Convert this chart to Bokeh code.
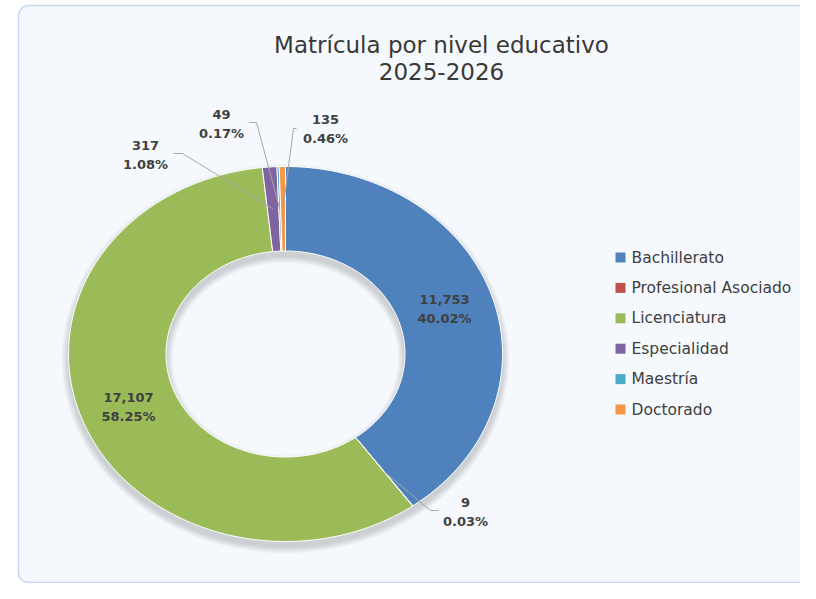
import numpy as np
from bokeh.plotting import figure
from bokeh.models import Range1d, BoxAnnotation
from bokeh.core.properties import value
from bokeh.embed import file_html
from bokeh.resources import INLINE

# ---- data ----
categories = ["Bachillerato", "Profesional Asociado", "Licenciatura",
              "Especialidad", "Maestría", "Doctorado"]
counts = [11753, 9, 17107, 317, 49, 135]
colors = ["#4F81BD", "#C0504D", "#9BBB59", "#8064A2", "#4BACC6", "#F79646"]
title_lines = ["Matrícula por nivel educativo", "2025-2026"]

# ---- layout (pixel coordinates of the picture) ----
W, H = 800, 583
CX, CY = 285, 353.5
RXO, RYO = 217, 187.5
RXI, RYI = 119.5, 103

p = figure(width=W, height=H, output_backend="svg", toolbar_location=None,
           x_range=Range1d(0, W), y_range=Range1d(H, 0),
           x_axis_location=None, y_axis_location=None, min_border=0,
           background_fill_color="white", border_fill_color="white")
p.grid.visible = False
p.outline_line_color = None

frame = BoxAnnotation(left=18, right=840, top=5, bottom=582,
                      fill_color="#F5F9FD", fill_alpha=1.0,
                      line_color="#5A89D4", line_width=1.5,
                      border_radius=10, level="underlay")
p.add_layout(frame)

total = float(sum(counts))
fracs = np.array(counts) / total
starts = np.concatenate([[0], np.cumsum(fracs)[:-1]]) * 2 * np.pi
ends = np.cumsum(fracs) * 2 * np.pi


def pt(theta, rx, ry, dy=0.0):
    return CX + rx * np.sin(theta), CY - ry * np.cos(theta) + dy


# ---- soft shadow (ring shifted down, blurred by layers) ----
full = np.linspace(0, 2 * np.pi, 181)
sx, sy = [], []
for k in range(1, 8):
    ox, oy = pt(full, RXO + k, RYO + k, dy=5)
    ix, iy = pt(full, RXI - k, RYI - k, dy=5)
    sx.append([[list(ox), list(ix)]])
    sy.append([[list(oy), list(iy)]])
p.multi_polygons(xs=sx, ys=sy, fill_color="black", fill_alpha=0.025,
                 line_color=None)

# ---- slices ----
xs, ys = [], []
for a0, a1 in zip(starts, ends):
    n = max(2, int(np.degrees(a1 - a0) / 1.0) + 2)
    t = np.linspace(a0, a1, n)
    ox, oy = pt(t, RXO, RYO)
    ix, iy = pt(t[::-1], RXI, RYI)
    xs.append(list(ox) + list(ix))
    ys.append(list(oy) + list(iy))
p.patches(xs=xs, ys=ys, fill_color=colors, line_color="white", line_width=1)

# ---- data labels ----
mids = (starts + ends) / 2
mx, my = pt(mids, (RXO + RXI) / 2, (RYO + RYI) / 2)
num_lbl = [f"{v:,}" for v in counts]
pct_lbl = [f"{v / total * 100:.2f}%" for v in counts]

# label anchor positions (layout): centre x, first-line y
lbl_pos = {0: (444, 299), 1: (465, 502), 2: (128, 397),
           3: (145, 145), 4: (221, 114), 5: (325, 119)}
# leader line knee points near the labels (layout)
leaders = {1: [(438, 510), (430, 510)],
           3: [(173, 153), (182, 153)],
           4: [(249, 122), (256, 122)],
           5: [(296, 128), (293, 128)]}
lx, ly = [], []
for i, knees in leaders.items():
    pts_ = knees + [(mx[i], my[i])]
    lx.append([q[0] for q in pts_])
    ly.append([q[1] for q in pts_])
p.multi_line(xs=lx, ys=ly, line_color="#A6A6A6", line_width=1)

tx, ty, tt = [], [], []
for i, (x, y) in lbl_pos.items():
    tx += [x, x]
    ty += [y, y + 18.5]
    tt += [num_lbl[i], pct_lbl[i]]
p.text(x=tx, y=ty, text=tt, text_align="center", text_baseline="middle",
       text_font=value("DejaVu Sans"), text_font_style="bold",
       text_font_size="13px", text_color="#404040")

# ---- title ----
p.text(x=[441, 441], y=[44, 71], text=title_lines, text_align="center",
       text_baseline="alphabetic", text_font=value("DejaVu Sans"),
       text_font_size="23px", text_color="#383838")

# ---- legend ----
leg_y = [257 + 30.4 * i for i in range(len(categories))]
p.scatter(x=[620] * len(categories), y=leg_y, marker="square", size=10,
          fill_color=colors, line_color=None)
p.text(x=[631] * len(categories), y=leg_y, text=categories,
       text_align="left", text_baseline="middle",
       text_font=value("DejaVu Sans"), text_font_size="15.5px",
       text_color="#404040")

open("out.html", "w").write(file_html(p, INLINE))
